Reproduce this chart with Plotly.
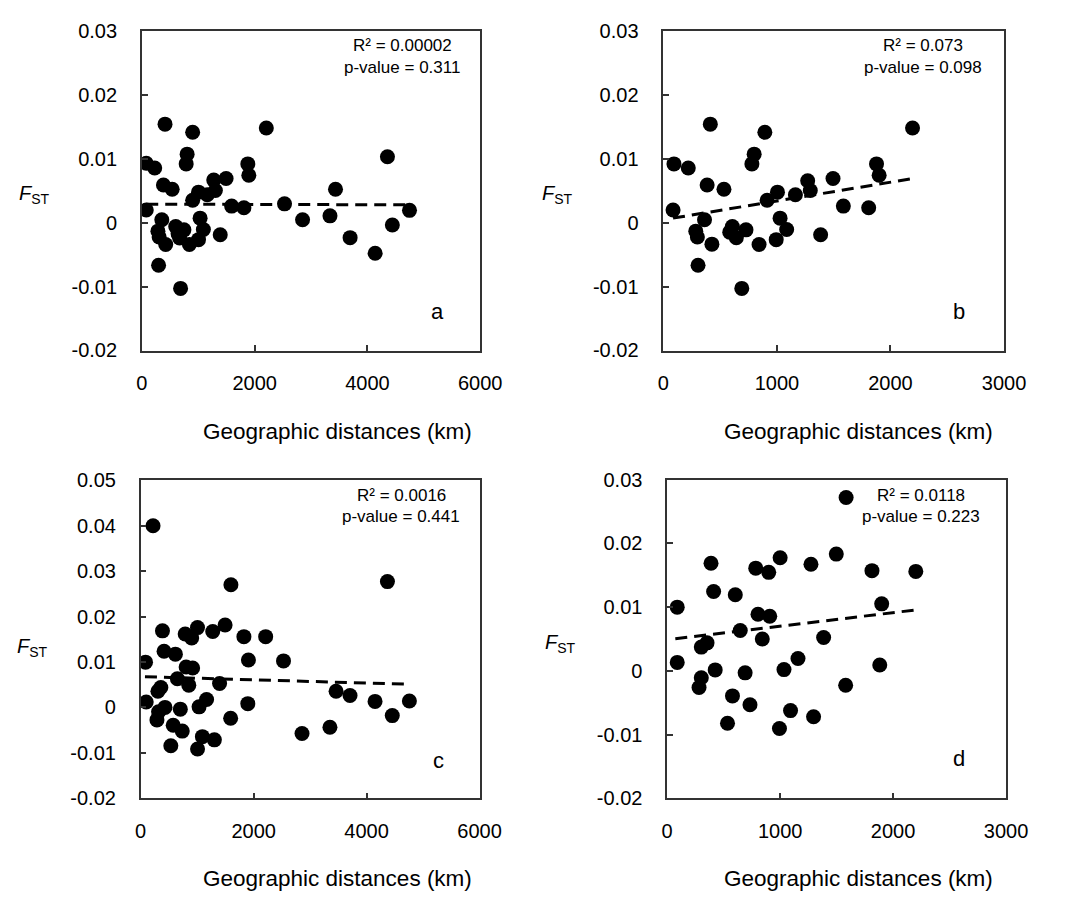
import plotly.graph_objects as go

W, H = 1067, 901

# ---------------- data ----------------
# Panel a: all population pairs
a_dist = [411, 901, 2207, 803, 786, 78, 228, 1879, 1897, 383, 538, 1275, 1494, 1304, 1160,
          1005, 901, 1592, 1810, 2530, 2850, 78, 354, 1033, 1091, 285, 307, 423, 601, 746,
          642, 670, 843, 1005, 1390, 297, 687, 4355, 3434, 3336, 4746, 4442, 3693, 4137]
a_fst = [0.01542, 0.01415, 0.01481, 0.01073, 0.0092, 0.0093, 0.00855, 0.0092, 0.00743, 0.0059,
         0.00524, 0.00667, 0.00692, 0.00504, 0.00438, 0.00478, 0.00351, 0.0026, 0.00234, 0.00295,
         0.00046, 0.00198, 0.00046, 0.00071, -0.00107, -0.00132, -0.00224, -0.0034, -0.00061, -0.00112,
         -0.00173, -0.0024, -0.0034, -0.00265, -0.00188, -0.00667, -0.01028, 0.01033, 0.00524, 0.00107,
         0.00193, -0.00036, -0.00234, -0.00478]
a_trend_x = [78, 4746]
a_trend_y = [0.0029, 0.0028]

# Panel b
b_dist = [414, 894, 800, 780, 94, 220, 386, 534, 1271, 1294, 1163, 1005, 914, 86, 363, 1028,
          1086, 286, 300, 428, 608, 728, 585, 643, 843, 994, 1385, 306, 691, 2194, 1877, 1900,
          1494, 1585, 1808]
b_fst = [0.01542, 0.01415, 0.01073, 0.0092, 0.0092, 0.00855, 0.0059, 0.00524, 0.00657, 0.00504,
         0.00438, 0.00478, 0.00351, 0.00198, 0.00046, 0.00071, -0.00107, -0.00132, -0.00224, -0.00336,
         -0.00061, -0.00112, -0.00148, -0.00234, -0.0034, -0.00265, -0.00188, -0.00667, -0.01028, 0.01481,
         0.0092, 0.00743, 0.00692, 0.0026, 0.00234]
b_trend_x = [86, 2200]
b_trend_y = [0.00072, 0.00692]

# Panel c
c_dist = [219, 1598, 386, 788, 903, 1006, 1276, 1495, 1828, 2213, 1908, 2529, 86, 414, 615,
          805, 920, 650, 852, 1397, 357, 305, 98, 1167, 1034, 1897, 317, 431, 702, 288, 1593,
          576, 736, 1093, 1305, 534, 1007, 2857, 4369, 3460, 3707, 4150, 4758, 4455, 3351]
c_fst = [0.0400, 0.0270, 0.01686, 0.01615, 0.0153, 0.01757, 0.0167, 0.01814, 0.01558, 0.01558,
         0.01045, 0.01024, 0.00996, 0.01237, 0.01173, 0.00889, 0.00868, 0.00632, 0.0049, 0.00526,
         0.0044, 0.00355, 0.0012, 0.00175, 0.00013, 0.00083, -0.00094, 0.0, -0.00038, -0.00274,
         -0.00237, -0.00393, -0.00521, -0.00643, -0.00714, -0.00842, -0.00915, -0.00573, 0.02769, 0.00355,
         0.00261, 0.00133, 0.00141, -0.0018, -0.00436]
c_trend_x = [76, 4770]
c_trend_y = [0.00675, 0.0051]

# Panel d
d_dist = [388, 784, 899, 1000, 1273, 411, 603, 89, 804, 908, 647, 842, 302, 353, 1385, 89,
          1158, 425, 690, 1034, 302, 282, 578, 733, 1092, 1296, 534, 994, 1584, 1497, 1813,
          2201, 1899, 1882, 1580]
d_fst = [0.01689, 0.01613, 0.01547, 0.01776, 0.01674, 0.01245, 0.01194, 0.0100, 0.00888, 0.00858,
         0.00633, 0.0050, 0.00373, 0.0044, 0.00525, 0.00133, 0.00194, 0.00015, -0.00031, 0.0002,
         -0.00107, -0.0026, -0.00393, -0.00531, -0.00623, -0.0072, -0.00822, -0.00904, 0.02721, 0.01833,
         0.01573, 0.01562, 0.01052, 0.00092, -0.00225]
d_trend_x = [72, 2216]
d_trend_y = [0.00505, 0.0096]

stats = {
    "a": ("R² = 0.00002", "p-value = 0.311"),
    "b": ("R² = 0.073", "p-value = 0.098"),
    "c": ("R² = 0.0016", "p-value = 0.441"),
    "d": ("R² = 0.0118", "p-value = 0.223"),
}

x_ticks_6000 = [0, 2000, 4000, 6000]
x_ticks_3000 = [0, 1000, 2000, 3000]
y_ticks_03 = [-0.02, -0.01, 0, 0.01, 0.02, 0.03]
y_text_03 = ["-0.02", "-0.01", "0", "0.01", "0.02", "0.03"]
y_ticks_05 = [-0.02, -0.01, 0, 0.01, 0.02, 0.03, 0.04, 0.05]
y_text_05 = ["-0.02", "-0.01", "0", "0.01", "0.02", "0.03", "0.04", "0.05"]

x_title = "Geographic distances (km)"
y_title = "<i>F</i><sub>ST</sub>"

# ---------------- layout helpers ----------------
def px_x(p):
    return p / W

def px_y(p):
    return 1 - p / H

FONT = "Liberation Sans, Arial, sans-serif"

panels = [
    ("a", a_dist, a_fst, a_trend_x, a_trend_y, 1, (139.5, 487, 20.5, 348), [0, 6000], x_ticks_6000, [-0.02, 0.03], y_ticks_03, y_text_03),
    ("b", b_dist, b_fst, b_trend_x, b_trend_y, 2, (675, 1025, 20.5, 348), [0, 3000], x_ticks_3000, [-0.02, 0.03], y_ticks_03, y_text_03),
    ("c", c_dist, c_fst, c_trend_x, c_trend_y, 3, (138.3, 486.3, 481, 807), [0, 6000], x_ticks_6000, [-0.02, 0.05], y_ticks_05, y_text_05),
    ("d", d_dist, d_fst, d_trend_x, d_trend_y, 4, (679, 1027, 480.5, 807), [0, 3000], x_ticks_3000, [-0.02, 0.03], y_ticks_03, y_text_03),
]

fig = go.Figure()
layout = dict(
    width=W, height=H,
    margin=dict(l=0, r=0, t=0, b=0),
    paper_bgcolor="white", plot_bgcolor="white",
    showlegend=False,
    font=dict(family=FONT, size=20, color="black"),
)
annotations = []

stat_pos = {"a": (407, 35, 58), "b": (942, 35, 58), "c": (406, 497, 518), "d": (940, 497, 518)}
letter_pos = {"a": (443, 308), "b": (979, 308), "c": (444, 768), "d": (979, 766)}
ytitle_pos = {"a": (29, 188), "b": (566, 188), "c": (27, 652), "d": (569, 648)}
xtitle_pos = {"a": (340, 431), "b": (875, 431), "c": (340, 889), "d": (875, 889)}

for name, xs, ys, tx, ty, i, dom, xr, xt, yr, yt, ytt in panels:
    xa = "x" if i == 1 else f"x{i}"
    ya = "y" if i == 1 else f"y{i}"
    fig.add_trace(go.Scatter(x=xs, y=ys, mode="markers", xaxis=xa, yaxis=ya,
                             marker=dict(color="black", size=15, line=dict(width=0))))
    fig.add_trace(go.Scatter(x=tx, y=ty, mode="lines", xaxis=xa, yaxis=ya,
                             line=dict(color="black", width=3, dash="12px,7px")))
    l, r, t, b = dom
    axis_common = dict(showline=True, linecolor="#333333", linewidth=1.5, mirror=True,
                       showgrid=False, zeroline=False, ticks="inside", ticklen=6,
                       tickcolor="#333333", tickwidth=1.5,
                       tickfont=dict(family=FONT, size=20, color="black"))
    layout["xaxis" if i == 1 else f"xaxis{i}"] = dict(
        domain=[px_x(l), px_x(r)], range=xr, tickvals=xt, ticktext=[str(v) for v in xt],
        anchor=ya, ticklabelstandoff=14, **axis_common)
    layout["yaxis" if i == 1 else f"yaxis{i}"] = dict(
        domain=[px_y(b), px_y(t)], range=yr, tickvals=yt, ticktext=ytt,
        anchor=xa, ticklabelstandoff=19, **axis_common)

    sx, sy1, sy2 = stat_pos[name]
    annotations.append(dict(x=px_x(sx), y=px_y(sy1), xref="paper", yref="paper",
                            text=stats[name][0], showarrow=False, xanchor="center", yanchor="middle",
                            font=dict(family=FONT, size=17, color="black")))
    annotations.append(dict(x=px_x(sx), y=px_y(sy2), xref="paper", yref="paper",
                            text=stats[name][1], showarrow=False, xanchor="center", yanchor="middle",
                            font=dict(family=FONT, size=17, color="black")))
    lx, ly = letter_pos[name]
    annotations.append(dict(x=px_x(lx), y=px_y(ly), xref="paper", yref="paper",
                            text=name, showarrow=False, xanchor="center", yanchor="middle",
                            font=dict(family=FONT, size=22, color="black")))
    yx, yy = ytitle_pos[name]
    annotations.append(dict(x=px_x(yx), y=px_y(yy), xref="paper", yref="paper",
                            text=y_title, showarrow=False, xanchor="center", yanchor="middle",
                            font=dict(family=FONT, size=20, color="black")))
    xx, xy = xtitle_pos[name]
    annotations.append(dict(x=px_x(xx), y=px_y(xy), xref="paper", yref="paper",
                            text=x_title, showarrow=False, xanchor="center", yanchor="middle",
                            font=dict(family=FONT, size=22.5, color="black")))

layout["annotations"] = annotations
fig.update_layout(**layout)
fig.write_html("out.html")
